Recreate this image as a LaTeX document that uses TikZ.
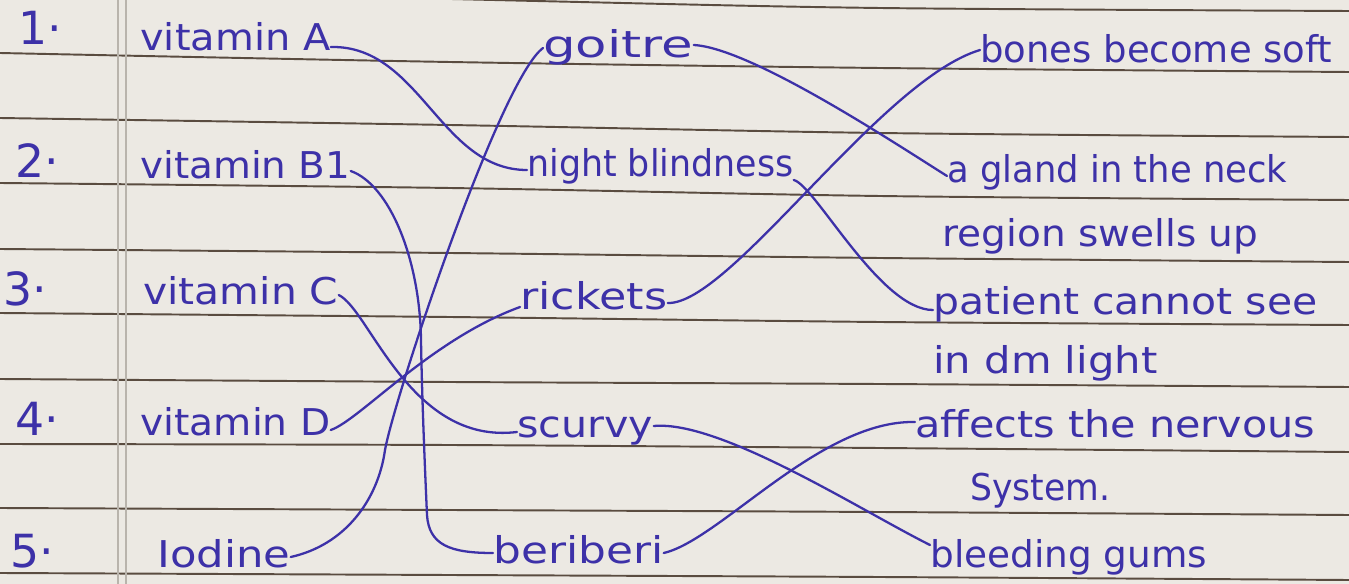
\documentclass[tikz,border=0pt]{standalone}
\usepackage{fontspec}
\usepackage{graphicx}
\setmainfont{DejaVu Sans}
\newlength\pxu
\setlength\pxu{0.02cm}
\newcommand\hw[2]{\resizebox{#1\pxu}{\height}{#2}}
\definecolor{paper}{HTML}{ECE9E3}
\definecolor{rule}{HTML}{5A4C40}
\definecolor{margin}{HTML}{B9B4AC}
\definecolor{ink}{HTML}{3D31A8}
\tikzset{
  txt/.style={font=\fontsize{21}{25}\selectfont, text=ink, inner sep=0pt, anchor=base west},
  num/.style={font=\fontsize{26}{30}\selectfont, text=ink, inner sep=0pt, anchor=base west},
  rl/.style={draw=rule, line width=1.1pt},
  mg/.style={draw=margin, line width=1.2pt},
  link/.style={draw=ink, line width=1.3pt, line cap=round}
}
\begin{document}
\begin{tikzpicture}[x=0.02cm, y=-0.02cm]
\useasboundingbox (0,0) rectangle (1349,584);
\fill[paper] (0,0) rectangle (1349,584);
% ruled lines
\draw[rl] plot[smooth] coordinates {(0,-12) (536,1) (880,8) (1349,11)};
\draw[rl] plot[smooth] coordinates {(0,53) (450,62) (880,68) (1349,72)};
\draw[rl] plot[smooth] coordinates {(0,118) (450,125) (880,133) (1349,137)};
\draw[rl] plot[smooth] coordinates {(0,183) (450,188) (880,196) (1349,200)};
\draw[rl] plot[smooth] coordinates {(0,249) (450,253) (880,258) (1349,262)};
\draw[rl] plot[smooth] coordinates {(0,313) (450,317) (880,322) (1349,325)};
\draw[rl] plot[smooth] coordinates {(0,379) (450,382) (880,384) (1349,387)};
\draw[rl] plot[smooth] coordinates {(0,444) (450,445) (880,448) (1349,452)};
\draw[rl] plot[smooth] coordinates {(0,508) (450,510) (880,512) (1349,515)};
\draw[rl] plot[smooth] coordinates {(0,573) (450,575) (880,577) (1349,580)};
% margin
\draw[mg] (118,0) -- (118,584);
\draw[mg] (126,0) -- (126,584);
% numbers
\node[num] (n1) at (18,45) {1·};
\node[num] (n2) at (15,178) {2·};
\node[num] (n3) at (3,305) {3·};
\node[num] (n4) at (15,435) {4·};
\node[num] (n5) at (10,567) {5·};
% left column
\node[txt] (vA) at (140,51) {\hw{190}{vitamin A}};
\node[txt] (vB) at (140,179) {\hw{210}{vitamin B1}};
\node[txt] (vC) at (143,304) {\hw{195}{vitamin C}};
\node[txt] (vD) at (140,435) {\hw{190}{vitamin D}};
\node[txt] (Io) at (157,567) {\hw{133}{Iodine}};
% middle column
\node[txt] (gt) at (543,58) {\hw{150}{goitre}};
\node[txt] (nb) at (527,177) {\hw{266}{night blindness}};
\node[txt] (rk) at (520,310) {\hw{147}{rickets}};
\node[txt] (sc) at (517,437) {\hw{136}{scurvy}};
\node[txt] (bb) at (493,563) {\hw{170}{beriberi}};
% right column
\node[txt] (bs) at (980,63) {\hw{352}{bones become soft}};
\node[txt] (gl) at (947,183) {\hw{340}{a gland in the neck}};
\node[txt] (rg) at (942,247) {\hw{316}{region swells up}};
\node[txt] (pt) at (933,315) {\hw{384}{patient cannot see}};
\node[txt] (dm) at (933,373) {\hw{224}{in dm light}};
\node[txt] (af) at (915,437) {\hw{400}{affects the nervous}};
\node[txt] (sy) at (970,500) {\hw{140}{System.}};
\node[txt] (bg) at (930,567) {\hw{277}{bleeding gums}};
% connectors
\draw[link] ([yshift=0.08cm]vA.base east) .. controls (420,45) and (440,170) .. ([yshift=0.14cm]nb.base west);
\draw[link] ([yshift=0.16cm]vB.base east) .. controls (390,185) and (420,260) .. (421,340)
  .. controls (422,400) and (425,470) .. (427,515)
  .. controls (429,545) and (450,553) .. ([yshift=0.2cm]bb.base west);
\draw[link] ([yshift=0.18cm]vC.base east) .. controls (370,310) and (410,445) .. ([yshift=0.1cm]sc.base west);
\draw[link] ([yshift=0.1cm]vD.base east) .. controls (360,420) and (430,340) .. ([yshift=0.06cm]rk.base west);
\draw[link] ([yshift=0.2cm]Io.base east) .. controls (345,545) and (378,500) .. (385,450)
  .. controls (395,395) and (500,80) .. ([yshift=0.2cm]gt.base west);
\draw[link] ([yshift=0.26cm]gt.base east) .. controls (750,48) and (890,140) .. ([yshift=0.14cm]gl.base west);
\draw[link] ([yshift=-0.06cm]nb.base east) .. controls (815,185) and (880,310) .. ([yshift=0.1cm]pt.base west);
\draw[link] ([yshift=0.14cm]rk.base east) .. controls (730,305) and (880,80) .. ([yshift=0.26cm]bs.base west);
\draw[link] ([yshift=0.22cm]sc.base east) .. controls (720,420) and (860,510) .. ([yshift=0.44cm]bg.base west);
\draw[link] ([yshift=0.2cm]bb.base east) .. controls (720,540) and (820,420) .. ([yshift=0.3cm]af.base west);
\end{tikzpicture}
\end{document}
